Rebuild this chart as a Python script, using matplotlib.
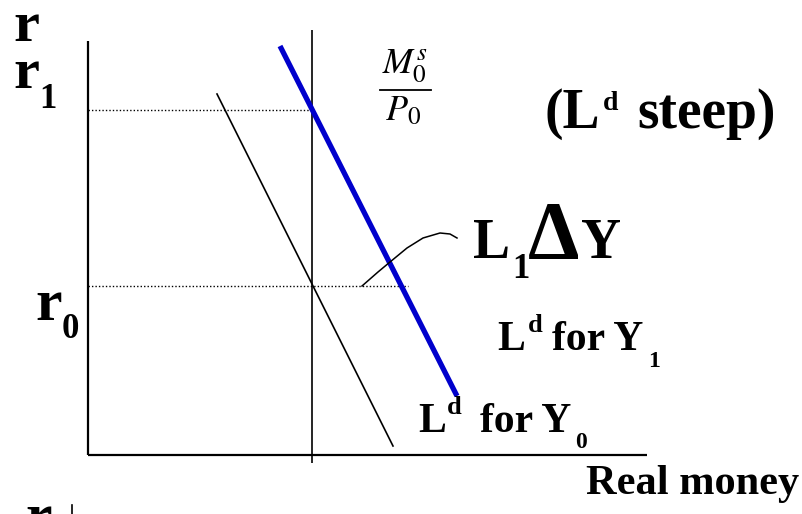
import numpy as np
import matplotlib
matplotlib.use("Agg")
import matplotlib.pyplot as plt

# diagram geometry (pixel units, y grows downward)
axis_v_x = [88, 88]
axis_v_y = [41, 455]
axis_h_x = [88, 647]
axis_h_y = [455, 455]
ms_x = [312, 312]
ms_y = [30, 463]
ld_y0_x = [217, 393]
ld_y0_y = [94, 446]
ld_y1_x = [280, 457]
ld_y1_y = [46, 396]
r1_x = [88, 312]
r1_y = [110, 110]
r0_x = [88, 408]
r0_y = [286, 286]
curve_x = [362, 378, 390, 407, 423, 440, 450, 457]
curve_y = [286, 272, 262, 248, 238, 233, 234, 238]
tick_x = [72, 72]
tick_y = [505, 516]

W, H = 803, 514
fig = plt.figure(figsize=(W / 100, H / 100), dpi=100)
ax = fig.add_axes([0, 0, 1, 1])
ax.set_xlim(0, W)
ax.set_ylim(H, 0)
ax.axis("off")

ax.plot(axis_v_x, axis_v_y, color="black", lw=1.6, solid_capstyle="butt")
ax.plot(axis_h_x, axis_h_y, color="black", lw=1.6, solid_capstyle="butt")
ax.plot(ms_x, ms_y, color="black", lw=1.2, solid_capstyle="butt")
ax.plot(r1_x, r1_y, color="black", lw=1.0, ls=(0, (1, 1.5)))
ax.plot(r0_x, r0_y, color="black", lw=1.0, ls=(0, (1, 1.5)))
ax.plot(ld_y0_x, ld_y0_y, color="black", lw=1.2)
ax.plot(ld_y1_x, ld_y1_y, color="#0000cc", lw=3.8, solid_capstyle="butt")
ax.plot(curve_x, curve_y, color="black", lw=1.1)
ax.plot(tick_x, tick_y, color="black", lw=1.2)

serif = "Liberation Serif"


def txt(x, y, s, size):
    ax.text(x, y, s, fontsize=size, family=serif, fontweight="bold",
            ha="left", va="baseline")


# axis labels
txt(13, 41, "r", 42)
txt(13, 88, "r", 42)
txt(39, 108, "1", 25)
txt(35, 320, "r", 43)
txt(62, 338, "0", 25)
txt(586, 494, "Real money", 30.5)
txt(25, 534, "r", 43)

# L1 dY
txt(473, 258, "L", 40)
txt(512, 278, "1", 25)
txt(528, 258, "\u0394", 59)
txt(581, 258, "Y", 40)

# (Ld steep)
txt(545, 128, "(L", 40)
txt(603, 110, "d", 20)
txt(637, 128, "steep)", 40)

# Ld for Y1
txt(497, 350, "L", 30)
txt(528, 332, "d", 19)
txt(552, 350, "for Y", 30)
txt(648, 367, "1", 17)

# Ld for Y0
txt(418, 432, "L", 30)
txt(447, 414, "d", 19)
txt(480, 432, "for Y", 30)
txt(575, 448, "0", 17)

# real money supply M0s / P0
ax.text(405, 72, r"$M_0^s$", fontsize=26, math_fontfamily="stix",
        ha="center", va="baseline")
ax.plot([380, 431], [90, 90], color="black", lw=1.3)
ax.text(403, 120, r"$P_0$", fontsize=26, math_fontfamily="stix",
        ha="center", va="baseline")

fig.savefig("out.png", dpi=100)
